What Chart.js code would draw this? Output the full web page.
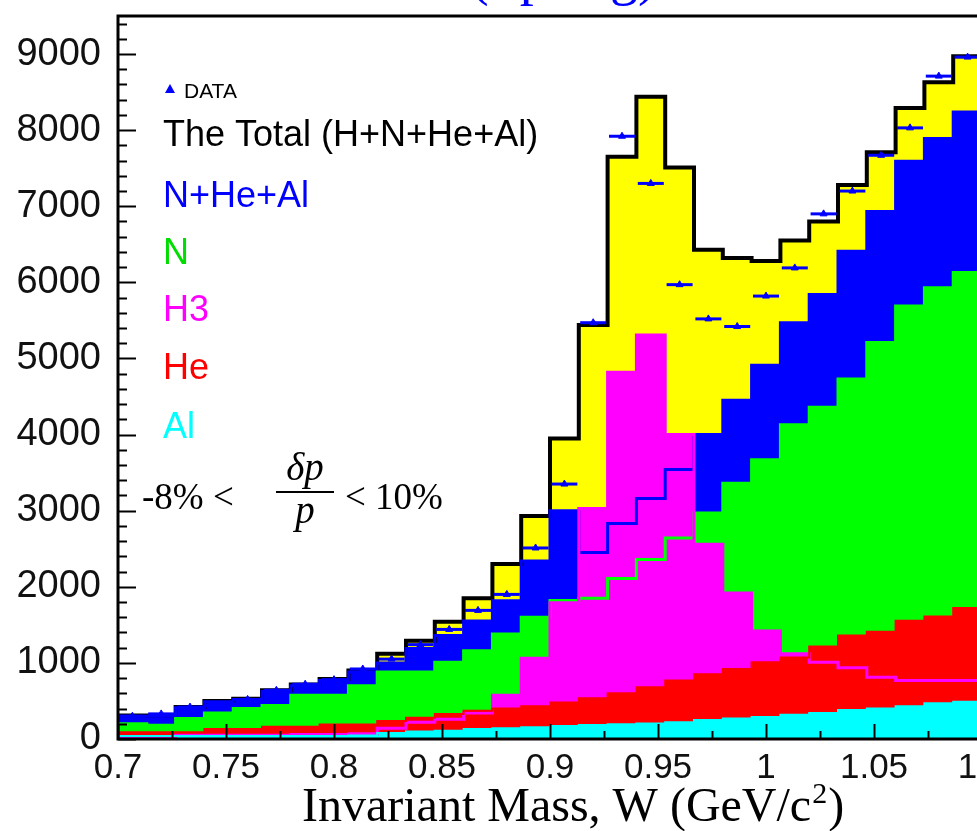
<!DOCTYPE html>
<html>
<head>
<meta charset="utf-8">
<title>Invariant Mass W - MC components vs data</title>
<script src="https://cdn.jsdelivr.net/npm/chart.js@4.4.1/dist/chart.umd.min.js"></script>
<style>
  html, body { margin: 0; padding: 0; background: #fff; overflow: hidden; }
  #wrap { position: relative; width: 977px; height: 831px; overflow: hidden; }
  canvas { display: block; }
</style>
</head>
<body>
<div id="wrap"><canvas id="wChart" width="1010" height="831"></canvas></div>
<script>
// Histogram binning (GeV): 30 bins between 0.7 and 1.1
const X_MIN = 0.7;
const X_MAX = 1.1;
const N_BINS = 30;

// Bin contents, one value per bin (left to right)
const totalHNHeAl = [310, 310, 420, 500, 530, 640, 715, 790, 900, 1120, 1290, 1540, 1850, 2300, 2930, 3950, 5440, 7650, 8440, 7510, 6430, 6320, 6280, 6550, 6800, 7280, 7710, 8290, 8630, 8970];
const nHeAl = [300, 300, 410, 490, 520, 625, 700, 770, 880, 1000, 1190, 1360, 1550, 1815, 2340, 3000, 2450, 2830, 3160, 3540, 4000, 4450, 4910, 5470, 5840, 6410, 6930, 7590, 7890, 8240];
const nitrogen = [200, 180, 270, 340, 400, 440, 575, 575, 700, 880, 880, 1010, 1160, 1380, 1600, 1820, 1850, 2110, 2360, 2640, 2970, 3360, 3670, 4130, 4360, 4730, 5210, 5690, 5930, 6130];
const h3 = [30, 30, 50, 50, 50, 50, 60, 60, 70, 140, 220, 260, 340, 575, 1060, 1790, 3030, 4820, 5310, 4000, 2560, 1920, 1420, 1120, 1010, 935, 810, 770, 770, 770];
const helium = [90, 90, 90, 130, 130, 160, 160, 190, 190, 235, 280, 330, 370, 400, 430, 480, 535, 600, 680, 770, 850, 920, 1010, 1070, 1215, 1360, 1410, 1555, 1610, 1720];
const aluminum = [40, 40, 40, 40, 40, 40, 40, 40, 45, 80, 100, 110, 130, 140, 155, 170, 185, 195, 205, 220, 250, 270, 290, 320, 340, 380, 400, 430, 470, 490];
const dataCounts = [300, 330, 420, 440, 520, 640, 720, 780, 920, 1050, 1240, 1440, 1690, 1900, 2510, 3350, 5470, 7920, 7300, 5970, 5520, 5420, 5820, 6190, 6900, 7200, 7670, 8030, 8710, 8960];

// Axis ticks
const xTickValues = [0.7, 0.75, 0.8, 0.85, 0.9, 0.95, 1, 1.05, 1.1];
const xTickLabels = ['0.7', '0.75', '0.8', '0.85', '0.9', '0.95', '1', '1.05', '1.1'];
const yTickValues = [0, 1000, 2000, 3000, 4000, 5000, 6000, 7000, 8000, 9000];
const Y_MAX = 9500;

const SANS = '"Liberation Sans", Arial, sans-serif';
const SERIF = '"Liberation Serif", "Times New Roman", serif';

// bin edges from the binning above
function binEdges() {
    const w = (X_MAX - X_MIN) / N_BINS;
    const edges = [];
    for (let k = 0; k <= N_BINS; k++) edges.push(X_MIN + k * w);
    return edges;
}

// one point per left edge, plus the right edge of the last bin
function histPoints(counts) {
    const e = binEdges();
    const pts = counts.map((c, k) => ({ x: e[k], y: c }));
    pts.push({ x: e[N_BINS], y: counts[counts.length - 1] });
    return pts;
}

function centerPoints(counts) {
    const e = binEdges();
    return counts.map((c, k) => ({ x: (e[k] + e[k + 1]) / 2, y: c }));
}

function histDataset(label, counts, fillColor, lineColor, width) {
    return {
        label: label,
        data: histPoints(counts),
        stepped: true,
        fill: 'origin',
        backgroundColor: fillColor,
        borderColor: lineColor,
        borderWidth: width,
        pointRadius: 0,
        pointHoverRadius: 0
    };
}

// ROOT style frame with ticks pointing into the pad
const rootFrame = {
    id: 'rootFrame',
    afterDatasetsDraw(chart) {
        const { ctx, chartArea: a, scales: { x, y } } = chart;
        ctx.save();
        ctx.strokeStyle = '#000';
        ctx.lineWidth = 2;
        for (let v = 0; v < Y_MAX; v += 200) {
            const py = Math.round(y.getPixelForValue(v)) + 0.5;
            const len = v % 1000 === 0 ? 18 : 9;
            ctx.beginPath();
            ctx.moveTo(a.left, py);
            ctx.lineTo(a.left + len, py);
            ctx.stroke();
        }
        for (let i = 0; i <= 16; i++) {
            const px = Math.round(x.getPixelForValue(X_MIN + i * 0.025)) + 0.5;
            const len = i % 2 === 0 ? 15 : 8;
            ctx.beginPath();
            ctx.moveTo(px, a.bottom);
            ctx.lineTo(px, a.bottom - len);
            ctx.stroke();
        }
        ctx.lineWidth = 3;
        ctx.strokeRect(a.left, a.top, a.right - a.left, a.bottom - a.top);
        ctx.restore();
    }
};

// legend, cut label, pad title and axis title drawn as text
const rootText = {
    id: 'rootText',
    afterDraw(chart) {
        const ctx = chart.ctx;
        ctx.save();
        ctx.textBaseline = 'alphabetic';
        ctx.textAlign = 'left';

        // pad title, mostly above the cropped picture
        ctx.fillStyle = '#0000ff';
        ctx.font = '56px ' + SERIF;
        ctx.fillText('(Spring)', 470, -6);

        // DATA entry with its marker
        ctx.beginPath();
        ctx.moveTo(170, 84);
        ctx.lineTo(175, 93);
        ctx.lineTo(165, 93);
        ctx.closePath();
        ctx.fill();
        ctx.fillStyle = '#000';
        ctx.font = '21px ' + SANS;
        ctx.fillText('DATA', 184, 98);

        const entries = [
            ['The Total (H+N+He+Al)', '#000000', 146],
            ['N+He+Al', '#0000ff', 207],
            ['N', '#00dd00', 264],
            ['H3', '#ff00ff', 321],
            ['He', '#ff0000', 379],
            ['Al', '#00ffff', 438]
        ];
        ctx.font = '36px ' + SANS;
        entries.forEach(([txt, col, by]) => {
            ctx.fillStyle = col;
            ctx.fillText(txt, 163, by);
        });

        // momentum acceptance cut
        ctx.fillStyle = '#000';
        ctx.font = '37px ' + SERIF;
        ctx.fillText('-8% <', 142, 509);
        ctx.fillText('< 10%', 345, 509);
        ctx.font = 'italic 39px ' + SERIF;
        ctx.textAlign = 'center';
        ctx.fillText('\u03b4p', 305, 480);
        ctx.fillText('p', 305, 523);
        ctx.fillRect(276, 491, 58, 2);

        // x axis title
        ctx.textAlign = 'left';
        ctx.font = '48px ' + SERIF;
        const main = 'Invariant Mass, W (GeV/c';
        const x0 = 302;
        ctx.fillText(main, x0, 821);
        let xe = x0 + ctx.measureText(main).width;
        ctx.font = '30px ' + SERIF;
        ctx.fillText('2', xe + 1, 803);
        xe += ctx.measureText('2').width + 2;
        ctx.font = '48px ' + SERIF;
        ctx.fillText(')', xe, 821);
        ctx.restore();
    }
};

function buildChart() {
    const ctx = document.getElementById('wChart').getContext('2d');
    new Chart(ctx, {
        type: 'line',
        data: {
            datasets: [
                {
                    label: 'DATA bins',
                    data: centerPoints(dataCounts),
                    showLine: false,
                    pointStyle: 'line',
                    pointRadius: 13,
                    pointBorderWidth: 3,
                    borderColor: '#0000ff',
                    backgroundColor: '#0000ff'
                },
                {
                    label: 'DATA',
                    data: centerPoints(dataCounts),
                    showLine: false,
                    pointStyle: 'triangle',
                    pointRadius: 4,
                    pointBorderWidth: 1,
                    borderColor: '#0000ff',
                    backgroundColor: '#0000ff'
                },
                histDataset('Al', aluminum, '#00ffff', '#00ffff', 2),
                histDataset('He', helium, '#ff0000', '#ff0000', 2),
                histDataset('H3', h3, '#ff00ff', '#ff00ff', 3),
                histDataset('N', nitrogen, '#00ff00', '#00ff00', 3),
                histDataset('N+He+Al', nHeAl, '#0000ff', '#0000ff', 3),
                histDataset('The Total (H+N+He+Al)', totalHNHeAl, '#ffff00', '#000000', 4)
            ]
        },
        options: {
            responsive: false,
            animation: false,
            devicePixelRatio: 1,
            layout: { padding: { top: 12, right: 28, left: 0, bottom: 0 } },
            plugins: {
                legend: { display: false },
                tooltip: { enabled: false },
                filler: { propagate: false, drawTime: 'beforeDatasetsDraw' }
            },
            scales: {
                x: {
                    type: 'linear',
                    min: X_MIN,
                    max: X_MAX,
                    grid: { display: false, drawTicks: false },
                    border: { display: false },
                    afterBuildTicks: (scale) => {
                        scale.ticks = xTickValues.map(v => ({ value: v }));
                    },
                    afterFit: (scale) => {
                        scale.height = 92;
                        scale.paddingLeft = 0;
                        scale.paddingRight = 0;
                    },
                    ticks: {
                        padding: 8,
                        autoSkip: false,
                        maxRotation: 0,
                        color: '#111',
                        font: { family: SANS, size: 35 },
                        callback: (v) => {
                            const i = xTickValues.findIndex(t => Math.abs(t - v) < 1e-6);
                            return i >= 0 ? xTickLabels[i] : '';
                        }
                    }
                },
                y: {
                    min: 0,
                    max: Y_MAX,
                    grid: { display: false, drawTicks: false },
                    border: { display: false },
                    afterBuildTicks: (scale) => {
                        scale.ticks = yTickValues.map(v => ({ value: v }));
                    },
                    afterFit: (scale) => {
                        scale.width = 118;
                        scale.paddingTop = 0;
                        scale.paddingBottom = 0;
                    },
                    ticks: {
                        padding: 17,
                        color: '#111',
                        font: { family: SANS, size: 38 },
                        callback: (v) => String(v)
                    }
                }
            }
        },
        plugins: [rootFrame, rootText]
    });
}

document.addEventListener('DOMContentLoaded', buildChart);
</script>
</body>
</html>
